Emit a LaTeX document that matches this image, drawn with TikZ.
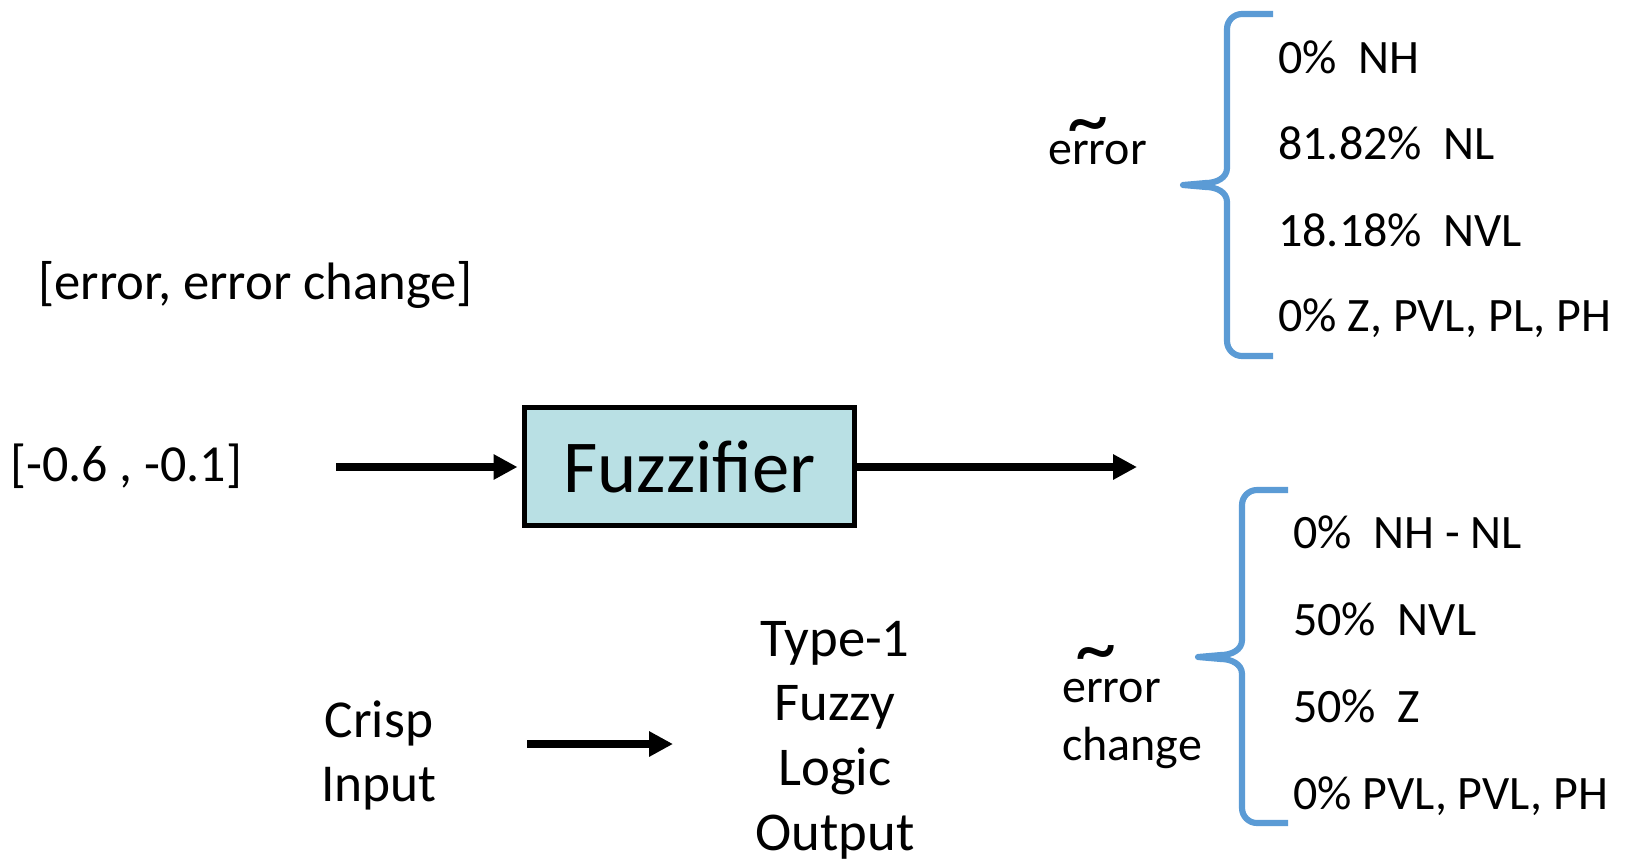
\documentclass[tikz,border=0pt]{standalone}
\usepackage{fontspec}
\setmainfont{Carlito}
\usetikzlibrary{arrows.meta}
\definecolor{bracecol}{HTML}{5B9BD5}
\definecolor{boxfill}{HTML}{B9E0E4}
\tikzset{
  arr/.style={line width=6.2pt,-{Triangle[length=18pt,width=18pt]}},
  brc/.style={draw=bracecol,line width=4.6pt,line join=round,line cap=butt},
  lst/.style={anchor=base west,inner sep=0pt,font=\fontsize{36}{42}\selectfont},
  lbl/.style={inner sep=0pt,font=\fontsize{40}{48}\selectfont},
  tld/.style={inner sep=0pt,font=\fontsize{62}{62}\selectfont},
}
\begin{document}
\begin{tikzpicture}[x=0.75pt,y=-0.75pt]
\useasboundingbox (0,0) rectangle (1633,864);
% left texts
\node[lbl,anchor=base west,font=\fontsize{39.5}{48}\selectfont] (vec) at (38,299) {[error, error change]};
\node[lbl,anchor=base west,font=\fontsize{39}{48}\selectfont] (inp) at (10,481) {[-0.6 , -0.1]};
% fuzzifier
\node[draw,line width=3.5pt,fill=boxfill,minimum width=247.5pt,minimum height=88.5pt,inner sep=0pt,font=\fontsize{56}{60}\selectfont] (fuzz) at (689.5,466.5) {Fuzzifier};
\coordinate (a1s) at (336,467);
\coordinate (a2e) at (1137,467);
\draw[arr,shorten >=3.5pt] (a1s) -- (fuzz.west|-a1s);
\draw[arr] (fuzz.east|-a2e) -- (a2e);
% error label
\node[lbl,anchor=base west,font=\fontsize{36}{42}\selectfont] (err) at (1048,164) {error};
\node[tld] (tl1) at (1088,133) {\textasciitilde};
% brace 1
\draw[brc] (1273,14) -- (1242,14) to[out=180,in=90] (1227,29) -- (1227,168) to[out=-90,in=0] (1206,183) -- (1183,185)
  -- (1206,187) to[out=0,in=90] (1227,202) -- (1227,341) to[out=-90,in=180] (1242,356) -- (1273,356);
\node[lst] (e1) at (1278,73) {0\%\ \ NH};
\node[lst] (e2) at (1278,159) {81.82\%\ \ NL};
\node[lst] (e3) at (1278,246) {18.18\%\ \ NVL};
\node[lst] (e4) at (1278,331) {0\% Z, PVL, PL, PH};
% error change label
\node[lbl,anchor=base west,align=left,font=\fontsize{36}{43}\selectfont] (ec) at (1062,760) {error\\change};
\node[tld] (tl2) at (1096,661) {\textasciitilde};
% brace 2
\draw[brc] (1288,490) -- (1257,490) to[out=180,in=90] (1242,505) -- (1242,640) to[out=-90,in=0] (1221,655) -- (1198,657)
  -- (1221,659) to[out=0,in=90] (1242,674) -- (1242,808) to[out=-90,in=180] (1257,823) -- (1288,823);
\node[lst] (c1) at (1293,548) {0\%\ \ NH - NL};
\node[lst] (c2) at (1293,635) {50\%\ \ NVL};
\node[lst] (c3) at (1293,722) {50\%\ \ Z};
\node[lst] (c4) at (1293,809) {0\% PVL, PVL, PH};
% bottom legend
\node[lbl,align=center,font=\fontsize{40}{48}\selectfont] (crisp) at (379,755) {Crisp\\Input};
\coordinate (a3s) at (527,744);
\coordinate (a3e) at (673,744);
\draw[arr] (a3s) -- (a3e);
\node[lbl,align=center,font=\fontsize{41}{48.5}\selectfont] (t1) at (835,740) {Type-1\\Fuzzy\\Logic\\Output};
\end{tikzpicture}
\end{document}
